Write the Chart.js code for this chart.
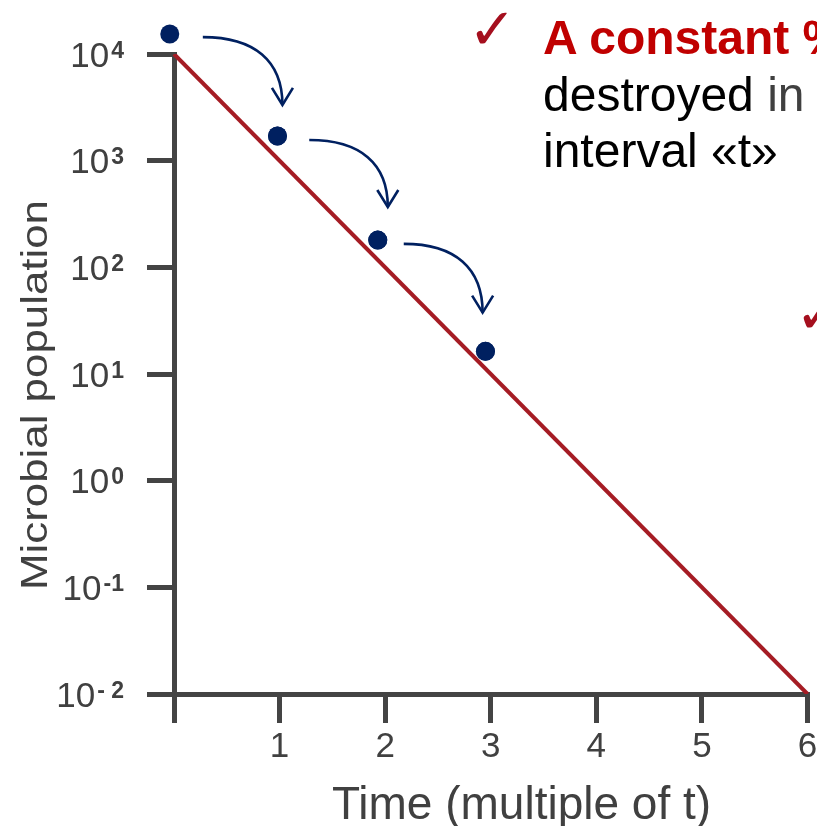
<!DOCTYPE html>
<html>
<head>
<meta charset="utf-8">
<script src="https://cdn.jsdelivr.net/npm/chart.js@4.4.1/dist/chart.umd.min.js"></script>
<style>
html,body{margin:0;padding:0;background:#fff;overflow:hidden;width:817px;height:826px;}
#wrap{position:relative;width:817px;height:826px;overflow:hidden;background:#fff;}
canvas{position:absolute;left:0;top:0;}
.txt{position:absolute;left:543px;top:10px;font-family:"Liberation Sans",Arial,sans-serif;font-size:48px;line-height:56.5px;white-space:nowrap;color:#000;}
.red{color:#c00000;font-weight:bold;}
.gray{color:#404040;}
.check{position:absolute;font-family:"DejaVu Sans",sans-serif;font-weight:bold;color:#a50f1e;font-size:58px;line-height:1;white-space:nowrap;}
</style>
</head>
<body>
<div id="wrap">
<canvas id="c" width="817" height="826"></canvas>
<div class="check" style="left:468px;top:0px">✓</div>
<div class="check" style="left:795px;top:284px">✓</div>
<div class="txt"><div class="red">A constant %</div><div>destroyed <span class="gray">in</span></div><div>interval «t»</div></div>
</div>
<script>
// ---- data ----
const timeTicks = [0, 1, 2, 3, 4, 5, 6];
const timeTickLabels = ['', '1', '2', '3', '4', '5', '6'];
const popTicks = [1e4, 1e3, 1e2, 1e1, 1e0, 1e-1, 1e-2];
const popTickBase = '10';
const popTickExp = ['4', '3', '2', '1', '0', '-1', '- 2'];
const sampleTimes = [-0.04, 0.98, 1.93, 2.95];
const samplePop = [15400, 1700, 180, 16.3];
const lineTimes = [0, 6];
const linePop = [10000, 0.01];
const arrowStartTimes = [0.273, 1.281, 2.176];
const arrowStartPop = [14400, 1560, 166];
const arrowEndTimes = [1.027, 2.025, 2.923];
const arrowEndPop = [3330, 368, 37.6];
const xTitle = 'Time (multiple of t)';
const yTitle = 'Microbial population';

const AXIS = '#444444';
const LABEL = '#404040';
const NAVY = '#002060';
const FONT = '"Liberation Sans", Arial, sans-serif';

const decor = {
  id: 'decor',
  afterDatasetsDraw(chart) {
    const ctx = chart.ctx, xs = chart.scales.x, ys = chart.scales.y;
    // draw the sample dots without the chart-area cut (the first one sits above the top tick)
    const full = { left: 0, top: 0, right: chart.width, bottom: chart.height };
    chart.getDatasetMeta(0).data.forEach(p => p.draw(ctx, full));
    ctx.save();
    ctx.strokeStyle = NAVY;
    ctx.lineWidth = 2.6;
    ctx.lineCap = 'butt';
    ctx.lineJoin = 'miter';
    for (let i = 0; i < arrowStartTimes.length; i++) {
      const x0 = xs.getPixelForValue(arrowStartTimes[i]);
      const y0 = ys.getPixelForValue(arrowStartPop[i]);
      const x3 = xs.getPixelForValue(arrowEndTimes[i]);
      const y3 = ys.getPixelForValue(arrowEndPop[i]);
      const dx = x3 - x0, dy = y3 - y0, k = 0.65;
      ctx.beginPath();
      ctx.moveTo(x0, y0);
      ctx.bezierCurveTo(x0 + k * dx, y0, x3, y3 - k * dy, x3, y3);
      ctx.stroke();
      ctx.beginPath();
      ctx.moveTo(x3 - 10.5, y3 - 17);
      ctx.lineTo(x3, y3);
      ctx.lineTo(x3 + 10.5, y3 - 17);
      ctx.stroke();
    }
    ctx.restore();
  },
  afterDraw(chart) {
    const ctx = chart.ctx, ys = chart.scales.y;
    ctx.save();
    ctx.fillStyle = LABEL;
    ctx.textBaseline = 'alphabetic';
    ctx.textAlign = 'right';
    const right = 124;
    popTicks.forEach((v, i) => {
      const py = ys.getPixelForValue(v);
      ctx.font = 'bold 23px ' + FONT;
      const ew = ctx.measureText(popTickExp[i]).width;
      ctx.fillText(popTickExp[i], right, py + 3.5);
      ctx.font = '35px ' + FONT;
      ctx.fillText(popTickBase, right - ew - 2, py + 12.5);
    });
    // x title
    ctx.textAlign = 'center';
    ctx.font = '46px ' + FONT;
    ctx.fillText(xTitle, 521.5, 819);
    // y title (stretched along its length as in the picture)
    ctx.font = '37px ' + FONT;
    const w = ctx.measureText(yTitle).width;
    ctx.translate(47, 395);
    ctx.rotate(-Math.PI / 2);
    ctx.scale(390 / w, 1);
    ctx.fillText(yTitle, 0, 0);
    ctx.restore();
  }
};

new Chart(document.getElementById('c'), {
  type: 'scatter',
  data: {
    datasets: [
      {
        data: sampleTimes.map((t, i) => ({ x: t, y: samplePop[i] })),
        backgroundColor: NAVY,
        borderWidth: 0,
        pointRadius: 9.5,
        pointHoverRadius: 9.5,
        clip: false
      },
      {
        data: lineTimes.map((t, i) => ({ x: t, y: linePop[i] })),
        showLine: true,
        borderColor: '#a51c24',
        borderWidth: 4,
        pointRadius: 0,
        pointHoverRadius: 0,
        fill: false
      }
    ]
  },
  options: {
    responsive: false,
    animation: false,
    devicePixelRatio: 1,
    events: [],
    layout: { padding: { left: 0, right: 6, top: 54, bottom: 0 } },
    plugins: { legend: { display: false }, tooltip: { enabled: false } },
    scales: {
      x: {
        type: 'linear', bounds: 'data',
        afterDataLimits: s => { s.min = timeTicks[0]; s.max = timeTicks[timeTicks.length - 1]; },
        afterBuildTicks: s => { s.ticks = timeTicks.map(v => ({ value: v })); },
        ticks: {
          callback: v => timeTickLabels[timeTicks.indexOf(v)],
          font: { family: FONT, size: 35 },
          color: LABEL, padding: 3, maxRotation: 0, autoSkip: false
        },
        grid: { drawOnChartArea: false, drawTicks: true, tickLength: 29, lineWidth: 5, color: AXIS },
        border: { display: true, width: 5, color: AXIS },
        afterFit: s => { s.height = 132; s.paddingLeft = 0; s.paddingRight = 0; }
      },
      y: {
        type: 'logarithmic', min: 0.01, max: 10000,
        afterBuildTicks: s => { s.ticks = popTicks.map(v => ({ value: v })); },
        ticks: { display: false },
        grid: { drawOnChartArea: false, drawTicks: true, tickLength: 27, lineWidth: 5, color: AXIS },
        border: { display: true, width: 5, color: AXIS },
        afterFit: s => { s.width = 174; s.paddingTop = 0; s.paddingBottom = 0; }
      }
    }
  },
  plugins: [decor]
});
</script>
</body>
</html>
